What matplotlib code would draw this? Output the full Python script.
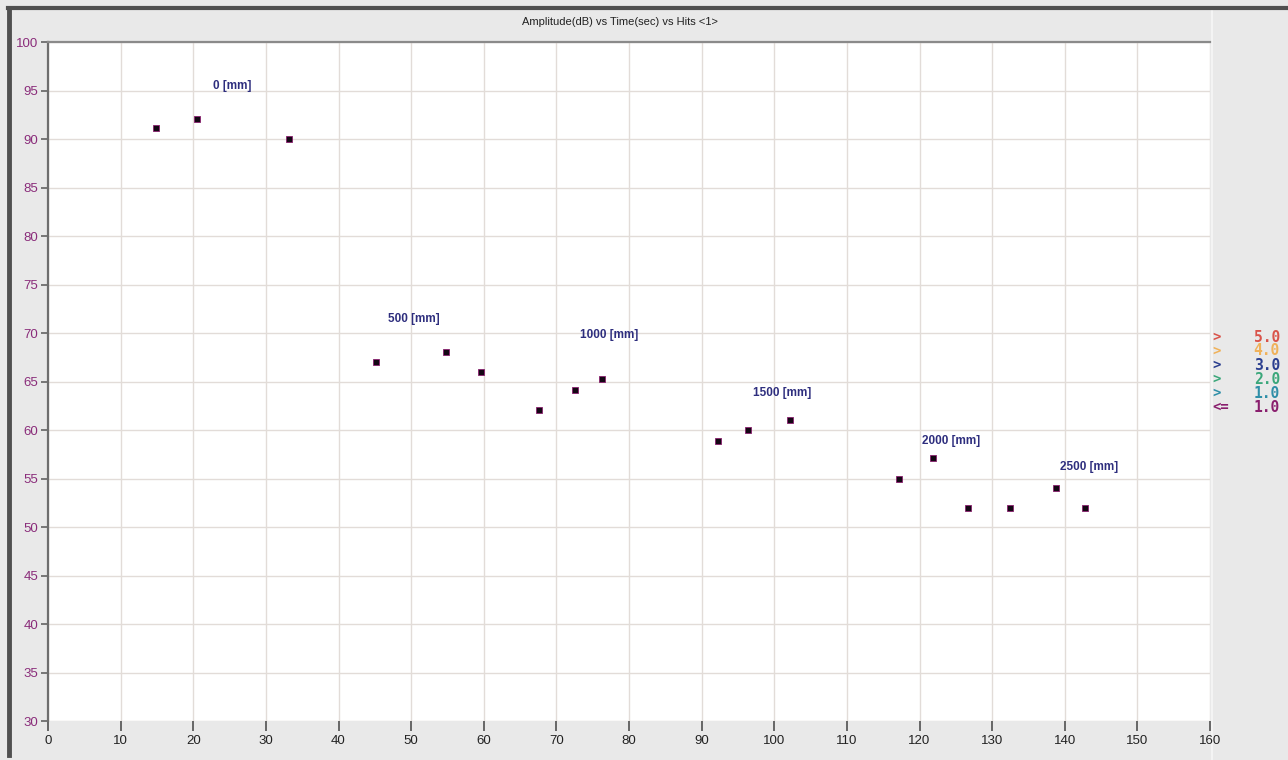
import numpy as np
import matplotlib.pyplot as plt
from matplotlib.lines import Line2D

# Hit data: time (sec) and amplitude (dB)
time_s = [14.9, 20.5, 33.2,
          45.2, 54.8, 59.6,
          67.6, 72.5, 76.3,
          92.3, 96.4, 102.1,
          117.1, 121.9, 126.7,
          132.4, 138.8, 142.8]
amp_db = [91.1, 92.1, 90.0,
          67.0, 68.0, 66.0,
          62.1, 64.1, 65.3,
          58.9, 60.0, 61.0,
          54.9, 57.1, 52.0,
          52.0, 54.0, 52.0]

# Distance labels and where they sit
dist_labels = ['0 [mm]', '500 [mm]', '1000 [mm]', '1500 [mm]', '2000 [mm]', '2500 [mm]']
dist_x = [25.3, 50.4, 77.3, 101.1, 124.4, 143.4]
dist_y = [95.5, 71.4, 69.8, 63.8, 58.9, 56.2]

# Colour scale legend
scale_ops = ['>', '>', '>', '>', '>', '<=']
scale_vals = ['5.0', '4.0', '3.0', '2.0', '1.0', '1.0']
scale_colors = ['#d9534a', '#f0b25a', '#2b3f8f', '#3aa77a', '#2f8fa8', '#8a1f6e']

plt.rcParams['font.family'] = ['Liberation Sans', 'DejaVu Sans']

W, H = 1288, 760
fig = plt.figure(figsize=(W / 100, H / 100), dpi=100)
fig.patch.set_facecolor('#e9e9e9')

# window frame: dark line at top and left
fig.add_artist(Line2D([0.006, 1.0], [0.989, 0.989], color='#505050', lw=3))
fig.add_artist(Line2D([0.007, 0.007], [0.006, 0.989], color='#505050', lw=3.5))
# right panel separator
fig.add_artist(Line2D([0.941, 0.941], [0.0, 0.985], color='#f4f4f4', lw=1.5, zorder=-1))

ax = fig.add_axes([0.0373, 0.0513, 0.9022, 0.8934])
ax.set_facecolor('white')
ax.set_xlim(0, 160)
ax.set_ylim(30, 100)
ax.set_xticks(np.arange(0, 161, 10))
ax.set_yticks(np.arange(30, 101, 5))
ax.grid(True, color='#e2dcd8', lw=1.0)
ax.set_axisbelow(True)

for side in ['right', 'bottom']:
    ax.spines[side].set_visible(False)
ax.spines['left'].set_color('#6e6e6e')
ax.spines['left'].set_linewidth(1.6)
ax.spines['top'].set_color('#8a8a8a')
ax.spines['top'].set_linewidth(1.6)

ax.tick_params(axis='y', colors='#6e6e6e', labelcolor='#8a2c7a', length=5, width=1.3,
               labelsize=9.5, pad=2)
ax.tick_params(axis='x', colors='#505050', labelcolor='#222222', length=7, width=1.2,
               labelsize=9.5, direction='out', pad=3)

ax.plot(time_s, amp_db, ls='none', marker='s', markersize=4.5,
        markerfacecolor='#140614', markeredgecolor='#8a1f6e', markeredgewidth=0.6)

for lab, x, y in zip(dist_labels, dist_x, dist_y):
    ax.text(x, y, lab, ha='center', va='center', fontsize=8.5, fontweight='bold', color='#2e2e7e')

fig.text(0.481, 0.971, 'Amplitude(dB) vs Time(sec) vs Hits <1>', ha='center', va='center',
         fontsize=8, color='#222222')

# scale legend: operator on the left, value right-aligned
for i, (op, val, c) in enumerate(zip(scale_ops, scale_vals, scale_colors)):
    y = 1 - (337 + i * 14) / H
    fig.text(1212 / W, y, op, ha='left', va='center', fontsize=10,
             fontweight='bold', family='DejaVu Sans Mono', color=c)
    fig.text(1280 / W, y, val, ha='right', va='center', fontsize=10.5,
             fontweight='bold', family='DejaVu Sans Mono', color=c)

fig.savefig('out.png', dpi=100, facecolor=fig.get_facecolor())
